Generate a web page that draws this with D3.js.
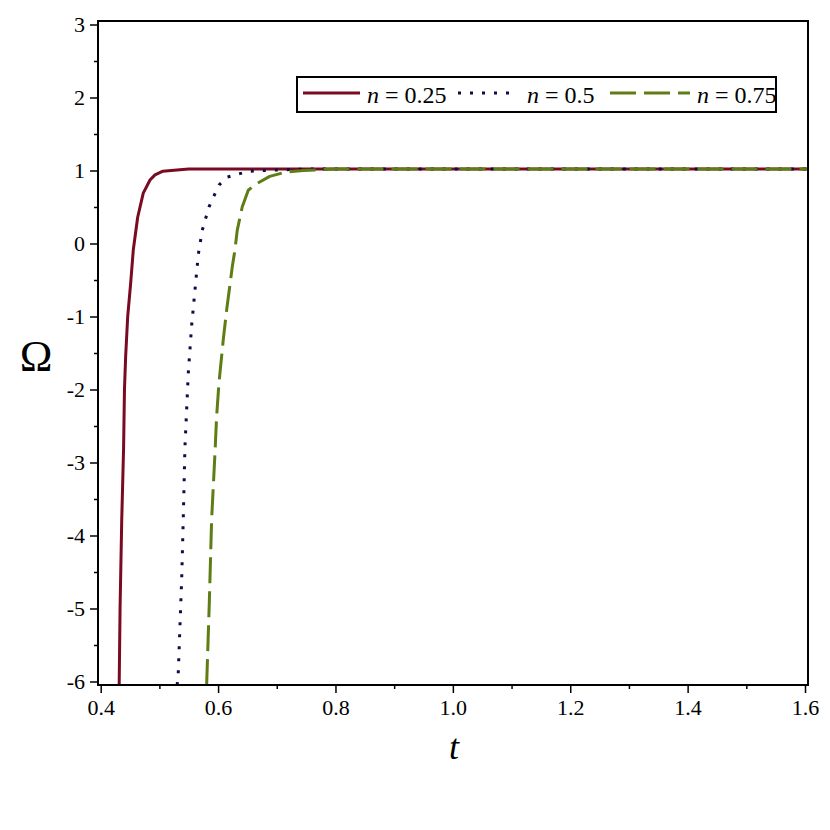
<!DOCTYPE html>
<html>
<head>
<meta charset="utf-8">
<script src="https://cdn.jsdelivr.net/npm/d3@7"></script>
<style>
html,body{margin:0;padding:0;background:#fff;}
svg{display:block;}
text{font-family:"Liberation Serif","Times New Roman",serif;fill:#000;}
</style>
</head>
<body>
<svg id="chart" width="830" height="830"></svg>
<script>
// ---- data ----
const seriesNames = ["n = 0.25", "n = 0.5", "n = 0.75"];
const nValues = ["0.25", "0.5", "0.75"];
const tRed   = [0.4315, 0.4330, 0.4358, 0.4390, 0.4405, 0.4425, 0.4460, 0.4511, 0.4555, 0.4630, 0.4725, 0.4840, 0.4925, 0.5060, 0.5200, 0.5500, 0.6000, 1.6050];
const omRed  = [-6.05, -5.00, -3.80, -2.80, -2.00, -1.55, -1.00, -0.54, -0.09, 0.36, 0.69, 0.87, 0.94, 0.99, 1.00, 1.02, 1.02, 1.02];
const tBlue  = [0.5302, 0.5320, 0.5380, 0.5407, 0.5435, 0.5492, 0.5550, 0.5606, 0.5663, 0.5730, 0.5844, 0.6015, 0.6156, 0.6370, 0.6540, 0.6760, 0.7500, 1.6050];
const omBlue = [-6.05, -5.91, -4.59, -3.76, -2.80, -1.78, -1.12, -0.64, -0.15, 0.18, 0.50, 0.80, 0.91, 0.957, 0.99, 1.00, 1.02, 1.02];
const tGreen = [0.5805, 0.5850, 0.5890, 0.5947, 0.5975, 0.6015, 0.6088, 0.6146, 0.6190, 0.6245, 0.6287, 0.6326, 0.6411, 0.6514, 0.6657, 0.6880, 0.7160, 0.7450, 0.8000, 1.6050];
const omGreen= [-6.05, -4.93, -3.78, -2.87, -2.37, -1.91, -1.32, -0.91, -0.64, -0.30, -0.09, 0.18, 0.50, 0.73, 0.82, 0.92, 0.98, 1.00, 1.02, 1.02];
const xTicks = [0.4, 0.6, 0.8, 1.0, 1.2, 1.4, 1.6];
const xTickLabels = ["0.4", "0.6", "0.8", "1.0", "1.2", "1.4", "1.6"];
const yTicks = [-6, -5, -4, -3, -2, -1, 0, 1, 2, 3];
const yTickLabels = ["-6", "-5", "-4", "-3", "-2", "-1", "0", "1", "2", "3"];
const xMinor = [0.5, 0.7, 0.9, 1.1, 1.3, 1.5];
const yMinor = [-5.5, -4.5, -3.5, -2.5, -1.5, -0.5, 0.5, 1.5, 2.5];

const colors = ["#7a0a22", "#0b0d45", "#5e7d14"];
const dashes = [null, "3,9", "26,8"];

// ---- layout ----
const L = 98, R = 808, T = 21, B = 685;
const x = d3.scaleLinear().domain([0.3954, 1.6051]).range([L, R]);
const y = d3.scaleLinear().domain([-6.048, 3.048]).range([B, T]);

const svg = d3.select("#chart");

svg.append("defs").append("clipPath").attr("id", "clip")
  .append("rect").attr("x", L).attr("y", T).attr("width", R - L).attr("height", B - T);

// curves
const series = [
  tRed.map((t, i) => [t, omRed[i]]),
  tBlue.map((t, i) => [t, omBlue[i]]),
  tGreen.map((t, i) => [t, omGreen[i]])
];
const line = d3.line().x(d => x(d[0])).y(d => y(d[1])).curve(d3.curveLinear);
const g = svg.append("g").attr("clip-path", "url(#clip)");
series.forEach((s, i) => {
  g.append("path").datum(s).attr("d", line)
    .attr("fill", "none").attr("stroke", colors[i]).attr("stroke-width", 3)
    .attr("stroke-linejoin", "round")
    .attr("stroke-dasharray", dashes[i]);
});

// axes (ticks outward)
const xAxis = d3.axisBottom(x).tickValues(xTicks).tickSize(8).tickFormat((d, i) => xTickLabels[i]).tickPadding(6);
const xg = svg.append("g").attr("transform", `translate(0,${B})`).call(xAxis);
xg.select(".domain").remove();
xg.selectAll(".tick line").attr("stroke", "#000").attr("stroke-width", 1.5);
xg.selectAll(".tick text").attr("font-size", 22).attr("font-family", "Liberation Serif").attr("fill", "#000");

const xm = d3.axisBottom(x).tickValues(xMinor).tickSize(4).tickFormat("");
const xmg = svg.append("g").attr("transform", `translate(0,${B})`).call(xm);
xmg.select(".domain").remove();
xmg.selectAll(".tick line").attr("stroke", "#000").attr("stroke-width", 1.5);

const yAxis = d3.axisLeft(y).tickValues(yTicks).tickSize(8).tickFormat((d, i) => yTickLabels[i]).tickPadding(5);
const yg = svg.append("g").attr("transform", `translate(${L},0)`).call(yAxis);
yg.select(".domain").remove();
yg.selectAll(".tick line").attr("stroke", "#000").attr("stroke-width", 1.5);
yg.selectAll(".tick text").attr("font-size", 22).attr("font-family", "Liberation Serif").attr("fill", "#000");

const ym = d3.axisLeft(y).tickValues(yMinor).tickSize(4).tickFormat("");
const ymg = svg.append("g").attr("transform", `translate(${L},0)`).call(ym);
ymg.select(".domain").remove();
ymg.selectAll(".tick line").attr("stroke", "#000").attr("stroke-width", 1.5);

// frame
svg.append("rect").attr("x", L).attr("y", T).attr("width", R - L).attr("height", B - T)
  .attr("fill", "none").attr("stroke", "#000").attr("stroke-width", 2);

// axis labels
svg.append("text").attr("x", 36).attr("y", 371).attr("text-anchor", "middle")
  .attr("font-size", 44).text("Ω");
svg.append("text").attr("x", 454).attr("y", 759).attr("text-anchor", "middle")
  .attr("font-size", 36).attr("font-style", "italic").text("t");

// legend
const lg = svg.append("g");
lg.append("rect").attr("x", 297).attr("y", 77).attr("width", 479).attr("height", 35)
  .attr("fill", "#fff").attr("stroke", "#000").attr("stroke-width", 2);
const legSample = [[303, 360], [458, 518], [610, 690]];
const legText = [367, 527, 697];
for (let i = 0; i < 3; i++) {
  lg.append("line").attr("x1", legSample[i][0]).attr("x2", legSample[i][1])
    .attr("y1", 93).attr("y2", 93)
    .attr("stroke", colors[i]).attr("stroke-width", 3).attr("stroke-dasharray", dashes[i]);
  const tx = lg.append("text").attr("x", legText[i]).attr("y", 103).attr("font-size", 24);
  tx.append("tspan").attr("font-style", "italic").text("n");
  tx.append("tspan").text(" = " + nValues[i]);
}
</script>
</body>
</html>
